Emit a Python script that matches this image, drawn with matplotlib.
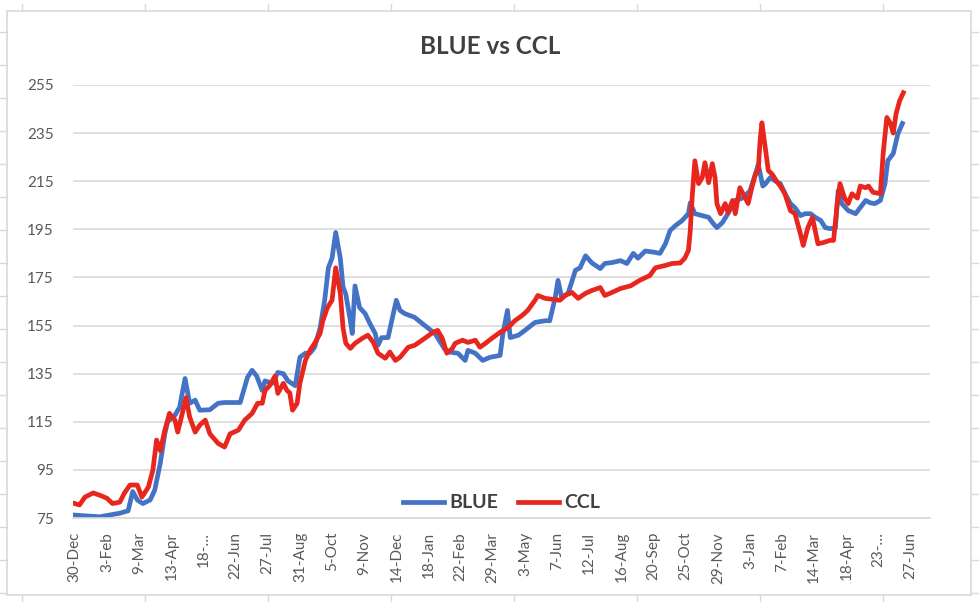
import matplotlib.pyplot as plt
from matplotlib.patches import Rectangle
from matplotlib.lines import Line2D
import pandas as pd

plt.rcParams['font.family'] = ['Lato', 'DejaVu Sans']

start = pd.Timestamp("2019-12-30")

# days after 30-Dec-2019 and the quote
blue_days = [0, 27, 49, 58, 63, 68, 74, 82, 87, 93, 98, 101, 109, 114, 120, 125, 131, 136,
             147, 156, 163, 180, 188, 193, 198, 204, 207, 215, 221, 227, 232, 240, 245, 251,
             256, 261, 267, 272, 276, 280, 284, 289, 292, 295, 300, 302, 305, 310, 316, 321,
             327, 330, 334, 341, 345, 350, 354, 359, 370, 381, 392, 403, 408, 417, 425, 428,
             436, 444, 452, 463, 466, 471, 474, 483, 490, 501, 512, 517, 523, 526, 530, 537,
             545, 550, 556, 563, 572, 577, 585, 594, 601, 608, 613, 621, 632, 637, 643, 648,
             654, 661, 668, 670, 675, 683, 690, 695, 699, 705, 711, 719, 727, 735, 741, 744,
             749, 752, 757, 763, 768, 773, 779, 784, 790, 795, 801, 806, 812, 817, 822, 828,
             831, 835, 842, 850, 855, 861, 866, 871, 877, 882, 885, 891, 896, 901]
blue_vals = [76.2, 75.5, 77, 78, 86, 82.5, 81, 82.5, 86.6, 97.8, 110, 115, 117.7, 121, 133,
             122.7, 124, 119.8, 120, 122.7, 123, 123, 133.5, 136.4, 134, 128, 132, 131, 135.5,
             135, 132, 130, 141.8, 143.5, 143.5, 146, 154, 165.5, 179, 183, 193.7, 183, 171,
             168, 157, 151.7, 171.5, 162.5, 160, 156, 151.7, 146.8, 150, 150, 157, 165.5, 161.3,
             160, 158.4, 155, 151.7, 145, 144, 143.5, 140.5, 144.7, 143.5, 140.5, 141.8, 142.6,
             151.7, 161.3, 150, 151, 153, 156.3, 157, 157, 166.7, 173.8, 166.7, 168.4, 178, 179,
             184, 181, 178.7, 180.8, 181.2, 182, 180.8, 185, 183, 186, 185.4, 185, 189, 194.5,
             196.6, 198.6, 201.5, 206, 201.5, 200.7, 200, 197.4, 195.7, 197.8, 201.5, 207, 208,
             211, 218, 222, 213, 214, 216.5, 215, 214, 210, 205.7, 204, 200.7, 201.5, 201.5,
             200, 198.7, 195.7, 195.3, 195.5, 211, 205.7, 202.8, 201.5, 204, 207, 206, 205.7,
             207, 214, 223.5, 226.5, 234.7, 239]

ccl_days = [0, 5, 11, 20, 27, 35, 41, 49, 54, 60, 68, 73, 80, 85, 89, 93, 98, 103, 109, 112,
            117, 121, 125, 131, 136, 142, 147, 156, 163, 169, 178, 185, 193, 199, 204, 207,
            212, 218, 221, 227, 231, 234, 237, 242, 245, 251, 256, 261, 267, 270, 275, 280,
            284, 289, 292, 295, 300, 305, 313, 319, 325, 330, 338, 343, 349, 354, 363, 370,
            381, 390, 395, 400, 405, 411, 414, 422, 428, 436, 441, 447, 454, 463, 472, 479,
            487, 493, 501, 504, 512, 528, 534, 541, 548, 556, 563, 572, 577, 585, 594, 605,
            615, 626, 632, 643, 650, 659, 664, 668, 670, 672, 675, 679, 683, 686, 690, 694,
            697, 699, 703, 708, 711, 716, 719, 724, 730, 733, 737, 741, 744, 746, 748, 752,
            755, 759, 764, 768, 773, 779, 784, 790, 793, 798, 803, 806, 809, 815, 822, 826,
            830, 833, 838, 842, 846, 852, 855, 861, 864, 869, 877, 880, 884, 888, 891, 894,
            898, 902]
ccl_vals = [81, 80.4, 83.7, 85.4, 84.5, 83.2, 81, 81.6, 85.4, 88.7, 88.7, 83.7, 87.8, 95,
            107.4, 103, 111.5, 118.5, 115.7, 110.7, 118.5, 125, 117, 110.7, 113.6, 115.7, 110,
            106, 104.5, 110, 111.5, 115.7, 118.5, 122.7, 122.7, 128, 130, 134, 126.8, 131, 128,
            127, 119.8, 122.7, 131, 140.5, 144.7, 147.6, 151.7, 157, 162.5, 165.5, 179, 168.4,
            154, 147.6, 145.5, 147.6, 149.7, 151, 148, 143.5, 141.4, 144, 140.5, 141.8, 146,
            146.8, 149.7, 152.2, 153, 149.7, 143.5, 145.5, 147.6, 148.9, 148, 148.9, 146, 147.6,
            149.7, 152.2, 154.3, 157, 159.2, 161.3, 165.5, 167.5, 166.3, 165.5, 167.5, 168.8,
            166.3, 168.4, 169.6, 170.8, 167.5, 168.8, 170.4, 171.5, 173.8, 175.8, 179, 180,
            180.8, 181, 183, 186.2, 194.5, 208, 223.5, 214, 216.5, 222.7, 214.4, 222.3, 216.5,
            205.7, 201.5, 205.7, 202, 207, 201.5, 212.3, 208, 205.7, 212.3, 218, 219.4, 231.8,
            239.3, 228, 219.4, 218, 215, 213, 209.8, 202.8, 201.5, 193, 188.3, 195.7, 200,
            194.5, 189, 189.5, 190.4, 190.4, 205.7, 214, 208, 205.7, 209.8, 208, 213, 212.3,
            213, 210.4, 209.8, 226.5, 241.5, 239, 235, 243, 248.5, 251.8]

tick_labels = ["30-Dec", "3-Feb", "9-Mar", "13-Apr", "18-\u2026", "22-Jun", "27-Jul",
               "31-Aug", "5-Oct", "9-Nov", "14-Dec", "18-Jan", "22-Feb", "29-Mar", "3-May",
               "7-Jun", "12-Jul", "16-Aug", "20-Sep", "25-Oct", "29-Nov", "3-Jan", "7-Feb",
               "14-Mar", "18-Apr", "23-\u2026", "27-Jun"]
y_ticks = [75, 95, 115, 135, 155, 175, 195, 215, 235, 255]

blue_dates = start + pd.to_timedelta(blue_days, unit="D")
ccl_dates = start + pd.to_timedelta(ccl_days, unit="D")
tick_dates = start + pd.to_timedelta([35 * i for i in range(len(tick_labels))], unit="D")

W, H = 980, 602
fig = plt.figure(figsize=(W / 100, H / 100), dpi=100)
ax = fig.add_axes([73 / W, 1 - 518 / H, 857 / W, 433 / H])

grey = "#595959"
grid = "#D9D9D9"

ax.plot(blue_dates, blue_vals, color="#4472C4", lw=3.4, solid_joinstyle="round", label="BLUE")
ax.plot(ccl_dates, ccl_vals, color="#E8261E", lw=3.4, solid_joinstyle="round", label="CCL")

ax.set_xlim(start - pd.Timedelta(days=2), start + pd.Timedelta(days=931))
ax.set_ylim(75, 255)
ax.set_yticks(y_ticks)
ax.set_xticks(tick_dates)
ax.set_xticklabels(tick_labels, rotation=90, ha="center", va="top")
ax.tick_params(axis="x", length=0, pad=10, labelsize=11, labelcolor=grey)
ax.tick_params(axis="y", length=0, pad=14, labelsize=11, labelcolor=grey)

ax.grid(axis="y", color=grid, lw=1.2)
ax.set_axisbelow(True)
for s in ["top", "left", "right"]:
    ax.spines[s].set_visible(False)
ax.spines["bottom"].set_color(grid)
ax.spines["bottom"].set_linewidth(1.2)

leg = ax.legend(loc="lower center", bbox_to_anchor=(0.5, -0.025), ncol=2, frameon=False,
                handlelength=2.1, columnspacing=1.0, handletextpad=0.3,
                prop={"weight": "bold", "size": 14})
for t in leg.get_texts():
    t.set_color("#404040")

fig.text(0.5, 1 - 47 / H, "BLUE vs CCL", ha="center", va="center",
         fontsize=17.5, fontweight="bold", color="#404040")

# chart area frame and the sheet cell marks around it
fig.add_artist(Rectangle((7 / W, 1 - 595 / H), 964 / W, 584 / H, transform=fig.transFigure,
                         fill=False, ec=grid, lw=1.2))
for x in range(22, 971, 123):
    fig.add_artist(Line2D([x / W, x / W], [1 - 595 / H, 1 - 601 / H], color=grid, lw=1,
                          transform=fig.transFigure))
    fig.add_artist(Line2D([x / W, x / W], [1 - 11 / H, 1 - 4 / H], color=grid, lw=1,
                          transform=fig.transFigure))
for y in range(32, 595, 33):
    fig.add_artist(Line2D([0, 7 / W], [1 - y / H, 1 - y / H], color=grid, lw=1,
                          transform=fig.transFigure))
    fig.add_artist(Line2D([971 / W, 978 / W], [1 - y / H, 1 - y / H], color=grid, lw=1,
                          transform=fig.transFigure))

fig.savefig("out.png", dpi=100, facecolor="white")
